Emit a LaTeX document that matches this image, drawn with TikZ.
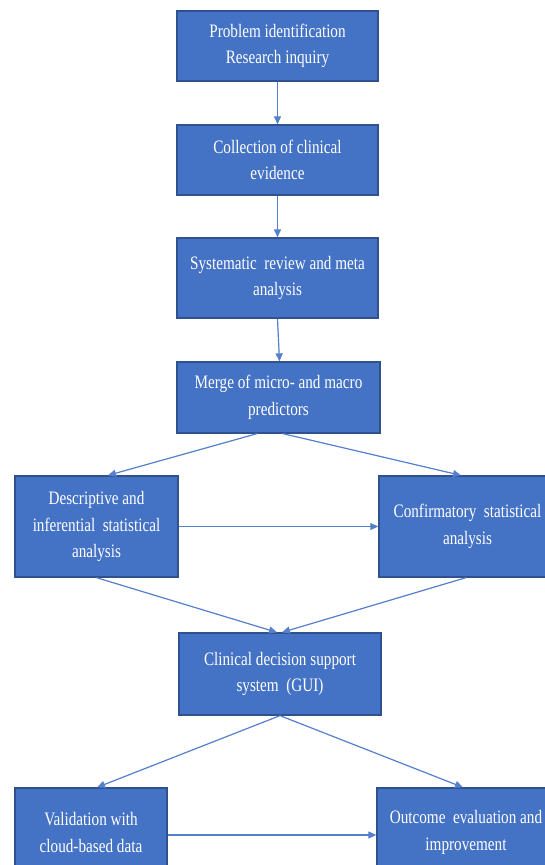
\documentclass[tikz,border=0pt]{standalone}
\usepackage{fontspec}
\newfontfamily\boxfont{Liberation Serif}[FakeStretch=0.8]
\usetikzlibrary{arrows.meta}
\definecolor{boxblue}{HTML}{4472C4}
\definecolor{boxedge}{HTML}{2F528F}
\definecolor{linkblue}{HTML}{5580CC}
\begin{document}
\begin{tikzpicture}[x=1pt,y=-1pt,
  blk/.style={rectangle, fill=boxblue, draw=boxedge, line width=1.3pt,
    text=white, align=center, inner sep=2pt,
    font=\boxfont\fontsize{19}{26.5}\selectfont},
  link/.style={draw=linkblue, line width=1.2pt,
    -{Triangle[length=8pt,width=7pt]}, fill=linkblue}]
\useasboundingbox (0,0) rectangle (545,865);
\node[blk, minimum width=201pt, minimum height=70pt] (p1) at (277.5,46) {Problem identification\\Research inquiry};
\node[blk, minimum width=201pt, minimum height=70pt] (p2) at (277.5,160) {Collection of clinical\\evidence};
\node[blk, minimum width=201pt, minimum height=80pt] (p3) at (277.5,278) {Systematic\ \ review and meta\\analysis};
\node[blk, minimum width=203pt, minimum height=71pt] (p4) at (278.5,397.5) {Merge of micro- and macro\\predictors};
\node[blk, minimum width=163pt, minimum height=101pt] (p5) at (96.5,526.5) {Descriptive and\\inferential\ \ statistical\\analysis};
\node[blk, minimum width=177pt, minimum height=101pt] (p6) at (467.5,526.5) {Confirmatory\ \ statistical\\analysis};
\node[blk, minimum width=202pt, minimum height=82pt] (p7) at (280,674) {Clinical decision support\\system\ \ (GUI)};
\node[blk, minimum width=152pt, minimum height=89pt] (p8) at (91,832.5) {Validation with\\cloud-based data};
\node[blk, minimum width=178pt, minimum height=89pt] (p9) at (466,832.5) {Outcome\ \ evaluation and\\improvement};
\draw[link] (p1.south) -- (p2.north);
\draw[link] (p2.south) -- (p3.north);
\draw[link] (p3.south) -- ([xshift=1pt]p4.north);
\draw[link] ([xshift=-21.5pt]p4.south) -- ([xshift=11.5pt]p5.north);
\draw[link] ([xshift=4.5pt]p4.south) -- ([xshift=-6.5pt]p6.north);
\draw[link] (p5.east) -- (p6.west);
\draw[link] (p5.south) -- ([xshift=-3pt]p7.north);
\draw[link] ([xshift=-1.5pt]p6.south) -- ([xshift=2pt]p7.north);
\draw[link] (p7.south) -- ([xshift=6pt]p8.north);
\draw[link] (p7.south) -- ([xshift=-3pt]p9.north);
\draw[link] ([yshift=-2.5pt]p8.east) -- ([yshift=-2.5pt]p9.west);
\end{tikzpicture}
\end{document}
